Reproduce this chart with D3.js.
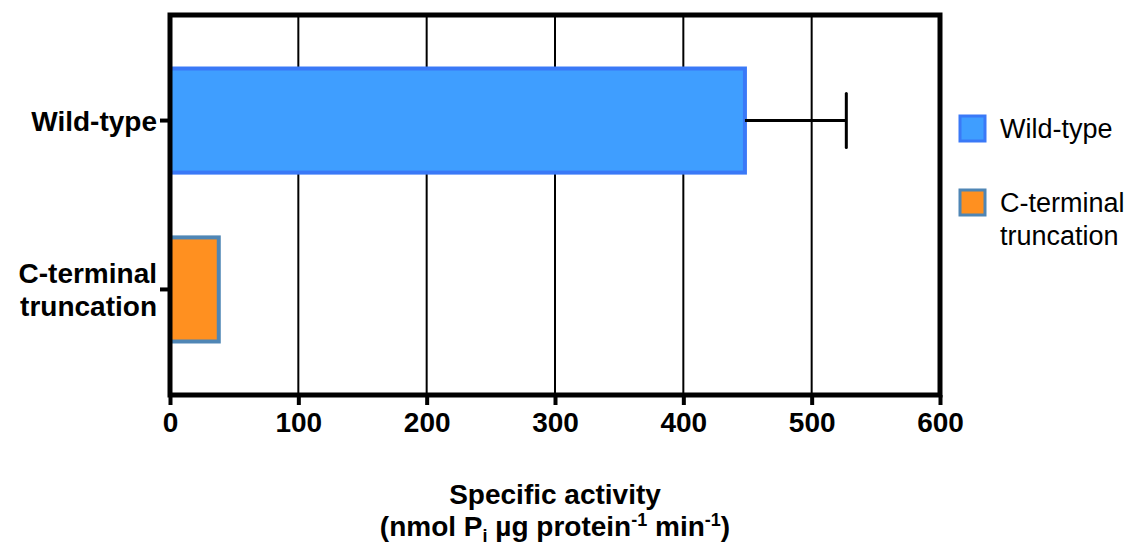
<!DOCTYPE html>
<html>
<head>
<meta charset="utf-8">
<script src="https://cdn.jsdelivr.net/npm/d3@7"></script>
<style>
  body { margin: 0; background: #fff; }
  text { font-family: "Liberation Sans", Arial, sans-serif; }
</style>
</head>
<body>
<svg id="chart" width="1129" height="547"></svg>
<script>
// data
const groups = ['Wild-type', 'C-terminal truncation'];
const groupLines = [['Wild-type'], ['C-terminal', 'truncation']];
const activity = [448, 38];
const errorSD = [79, 0];
const xTicks = [0, 100, 200, 300, 400, 500, 600];
const fills = ['#3f9eff', '#ff9020'];
const strokes = ['#3a79f7', '#4f86b5'];

const width = 1129, height = 547;
const margin = { top: 15, right: 189, bottom: 152, left: 170 };

const svg = d3.select('#chart');

const x = d3.scaleLinear()
  .domain([0, 600])
  .range([margin.left, width - margin.right]);

const y = d3.scaleBand()
  .domain(groups)
  .range([margin.top, height - margin.bottom])
  .paddingInner(0.36)
  .paddingOuter(0.305);

// vertical grid lines
svg.append('g')
  .selectAll('line')
  .data(xTicks.slice(1, -1))
  .join('line')
  .attr('x1', d => x(d)).attr('x2', d => x(d))
  .attr('y1', margin.top).attr('y2', height - margin.bottom)
  .attr('stroke', '#000')
  .attr('stroke-width', 2);

// bars
svg.append('g')
  .selectAll('rect')
  .data(groups)
  .join('rect')
  .attr('x', x(0))
  .attr('y', d => y(d) + 2)
  .attr('width', (d, i) => x(activity[i]) - x(0))
  .attr('height', y.bandwidth() - 4)
  .attr('fill', (d, i) => fills[i])
  .attr('stroke', (d, i) => strokes[i])
  .attr('stroke-width', 4);

// error bars (upper only)
const eb = svg.append('g')
  .selectAll('g')
  .data(groups.filter((d, i) => errorSD[i] > 0))
  .join('g');
eb.append('line')
  .attr('x1', d => x(activity[groups.indexOf(d)]))
  .attr('x2', d => x(activity[groups.indexOf(d)] + errorSD[groups.indexOf(d)]))
  .attr('y1', d => y(d) + y.bandwidth() / 2)
  .attr('y2', d => y(d) + y.bandwidth() / 2)
  .attr('stroke', '#000').attr('stroke-width', 3);
eb.append('line')
  .attr('x1', d => x(activity[groups.indexOf(d)] + errorSD[groups.indexOf(d)]))
  .attr('x2', d => x(activity[groups.indexOf(d)] + errorSD[groups.indexOf(d)]))
  .attr('y1', d => y(d) + y.bandwidth() / 2 - 27)
  .attr('y2', d => y(d) + y.bandwidth() / 2 + 27)
  .attr('stroke', '#000').attr('stroke-width', 3).attr('stroke-linecap', 'round');

// frame
svg.append('rect')
  .attr('x', margin.left).attr('y', margin.top)
  .attr('width', width - margin.right - margin.left)
  .attr('height', height - margin.bottom - margin.top)
  .attr('fill', 'none')
  .attr('stroke', '#000')
  .attr('stroke-width', 5);

// x axis
const xAxis = svg.append('g')
  .attr('transform', `translate(0,${height - margin.bottom})`)
  .call(d3.axisBottom(x).tickValues(xTicks).tickSize(10).tickPadding(7).tickFormat(d3.format('d')));
xAxis.select('.domain').remove();
xAxis.selectAll('.tick line').attr('stroke', '#000').attr('stroke-width', 4);
xAxis.selectAll('.tick text')
  .attr('fill', '#000')
  .attr('font-size', 28)
  .attr('font-weight', 'bold')
  .attr('font-family', '"Liberation Sans", Arial, sans-serif');

// y axis
const yAxis = svg.append('g')
  .attr('transform', `translate(${margin.left},0)`)
  .call(d3.axisLeft(y).tickSize(10).tickFormat(''));
yAxis.select('.domain').remove();
yAxis.selectAll('.tick line').attr('stroke', '#000').attr('stroke-width', 4);

// y labels (possibly multi-line)
const yl = svg.append('g')
  .selectAll('text')
  .data(groups)
  .join('text')
  .attr('text-anchor', 'end')
  .attr('font-size', 28)
  .attr('font-weight', 'bold')
  .attr('fill', '#000');
yl.each(function (d, i) {
  const lines = groupLines[i];
  const cy = y(d) + y.bandwidth() / 2;
  const lh = 33;
  d3.select(this).selectAll('tspan')
    .data(lines)
    .join('tspan')
    .attr('x', margin.left - 13)
    .attr('y', (t, j) => cy + 10 + (j - (lines.length - 1) / 2) * lh)
    .text(t => t);
});

// x axis title
const tx = (margin.left + width - margin.right) / 2;
svg.append('text')
  .attr('x', tx).attr('y', 504)
  .attr('text-anchor', 'middle')
  .attr('font-size', 28)
  .attr('font-weight', 'bold')
  .attr('fill', '#000')
  .text('Specific activity');
const t2 = svg.append('text')
  .attr('x', tx).attr('y', 536)
  .attr('text-anchor', 'middle')
  .attr('font-size', 28)
  .attr('font-weight', 'bold')
  .attr('fill', '#000');
t2.append('tspan').text('(nmol P');
t2.append('tspan').attr('font-size', 18).attr('dy', 6).text('i');
t2.append('tspan').attr('dy', -6).text(' µg protein');
t2.append('tspan').attr('font-size', 18).attr('dy', -10).text('-1');
t2.append('tspan').attr('dy', 10).text(' min');
t2.append('tspan').attr('font-size', 18).attr('dy', -10).text('-1');
t2.append('tspan').attr('dy', 10).text(')');

// legend
const legend = svg.append('g')
  .selectAll('g')
  .data(groups)
  .join('g')
  .attr('transform', (d, i) => `translate(960,${116 + i * 74})`);
legend.append('rect')
  .attr('width', 25).attr('height', 25)
  .attr('fill', (d, i) => fills[i])
  .attr('stroke', (d, i) => strokes[i])
  .attr('stroke-width', 3);
legend.append('text')
  .attr('font-size', 27)
  .attr('fill', '#000')
  .each(function (d, i) {
    d3.select(this).selectAll('tspan')
      .data(groupLines[i])
      .join('tspan')
      .attr('x', 40)
      .attr('y', (t, j) => 22 + j * 33)
      .text(t => t);
  });
</script>
</body>
</html>
